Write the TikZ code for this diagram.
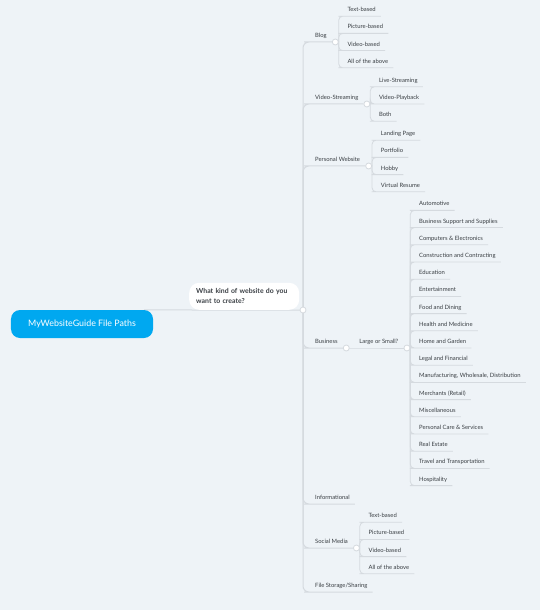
\documentclass[tikz,border=0pt]{standalone}
\usepackage{fontspec}
\setmainfont{Lato}
\usetikzlibrary{positioning,backgrounds}
\definecolor{bgcol}{HTML}{EEF3F7}
\definecolor{rootblue}{HTML}{00A8F0}
\definecolor{linegray}{HTML}{D5DADF}
\definecolor{txtgray}{HTML}{3A3F44}

\begin{document}
\begin{tikzpicture}[x=1bp,y=-1bp,
  every node/.style={font=\fontsize{5.9}{7}\selectfont,text=txtgray},
  rootbox/.style={fill=rootblue,rounded corners=9bp,minimum width=142bp,minimum height=28bp,
    text=white,font=\fontsize{8.9}{10}\selectfont},
  question/.style={fill=white,rounded corners=10bp,text width=96bp,inner xsep=7bp,minimum height=27bp,
    align=left,anchor=south west,font=\bfseries\fontsize{6.9}{9.8}\selectfont},
  topic/.style={anchor=south west,inner xsep=5bp,inner ysep=2.8bp,text height=4bp,text depth=1.5bp},
  dot/.style={circle,draw=linegray,fill=white,line width=0.8bp,inner sep=0pt,minimum size=6bp},
  link/.style={draw=linegray,line width=1bp,rounded corners=6bp},
  sublink/.style={draw=linegray,line width=0.8bp,rounded corners=4bp}
  ]

    \node[rootbox] (root) at (82,324) {MyWebsiteGuide File Paths};
    \node[question] (quest) at (189,310) {What kind of website do you\\want to create?};
    \node[dot] (qdot) at (303,310) {};

    % first level
    \node[topic] (blog) at (310,42) {Blog};
    \node[topic] (stream) at (310,104) {Video-Streaming};
    \node[topic] (personal) at (310,166) {Personal Website};
    \node[topic] (business) at (310,348) {Business};
    \node[topic] (info) at (310,504) {Informational};
    \node[topic] (social) at (310,548) {Social Media};
    \node[topic] (storage) at (310,592) {File Storage/Sharing};

    \node[dot,right=0bp of blog.south east] (blogdot) {};
    \node[dot,right=0bp of stream.south east] (streamdot) {};
    \node[dot,right=0bp of personal.south east] (personaldot) {};
    \node[dot,right=0bp of business.south east] (busdot) {};
    \node[dot,right=0bp of social.south east] (socialdot) {};
    \node[topic] (size) at ([xshift=8bp]busdot.center) {Large or Small?};
    \node[dot,right=0bp of size.south east] (sizedot) {};

    % leaves
    \foreach \t [count=\i] in {Text-based,Picture-based,Video-based,All of the above}
        \node[topic] (blog\i) at ([xshift=7bp,yshift={(2.5-\i)*17.2bp}]blogdot.center) {\t};
    \foreach \t [count=\i] in {Live-Streaming,Video-Playback,Both}
        \node[topic] (stream\i) at ([xshift=7bp,yshift={(2-\i)*17.2bp}]streamdot.center) {\t};
    \foreach \t [count=\i] in {Landing Page,Portfolio,Hobby,Virtual Resume}
        \node[topic] (personal\i) at ([xshift=7bp,yshift={(2.5-\i)*17.2bp}]personaldot.center) {\t};
    \foreach \t [count=\i] in {Automotive,Business Support and Supplies,Computers \& Electronics,
        Construction and Contracting,Education,Entertainment,Food and Dining,Health and Medicine,
        Home and Garden,Legal and Financial,{Manufacturing, Wholesale, Distribution},Merchants (Retail),
        Miscellaneous,Personal Care \& Services,Real Estate,Travel and Transportation,Hospitality}
        \node[topic] (size\i) at ([xshift=7bp,yshift={(9-\i)*17.2bp}]sizedot.center) {\t};
    \foreach \t [count=\i] in {Text-based,Picture-based,Video-based,All of the above}
        \node[topic] (social\i) at ([xshift=7bp,yshift={(2.5-\i)*17.2bp}]socialdot.center) {\t};

    \begin{scope}[on background layer]
        \fill[bgcol] (0,0) rectangle (540,610);
        \draw[link] ([xshift=-9bp]root.north east) -- (quest.south west) -- (qdot.center);
        \foreach \n in {blog,stream,personal,business,info,social,storage}
            \draw[link] (qdot.center) |- (\n.south west) -- (\n.south east);
        \draw[sublink] (busdot.center) -- (size.south west) -- (size.south east);
        \foreach \i in {1,...,4} {
            \draw[sublink] (blogdot.east) |- (blog\i.south west) -- (blog\i.south east);
            \draw[sublink] (personaldot.east) |- (personal\i.south west) -- (personal\i.south east);
            \draw[sublink] (socialdot.east) |- (social\i.south west) -- (social\i.south east);
        }
        \foreach \i in {1,...,3}
            \draw[sublink] (streamdot.east) |- (stream\i.south west) -- (stream\i.south east);
        \foreach \i in {1,...,17}
            \draw[sublink] (sizedot.east) |- (size\i.south west) -- (size\i.south east);
    \end{scope}
\end{tikzpicture}
\end{document}
